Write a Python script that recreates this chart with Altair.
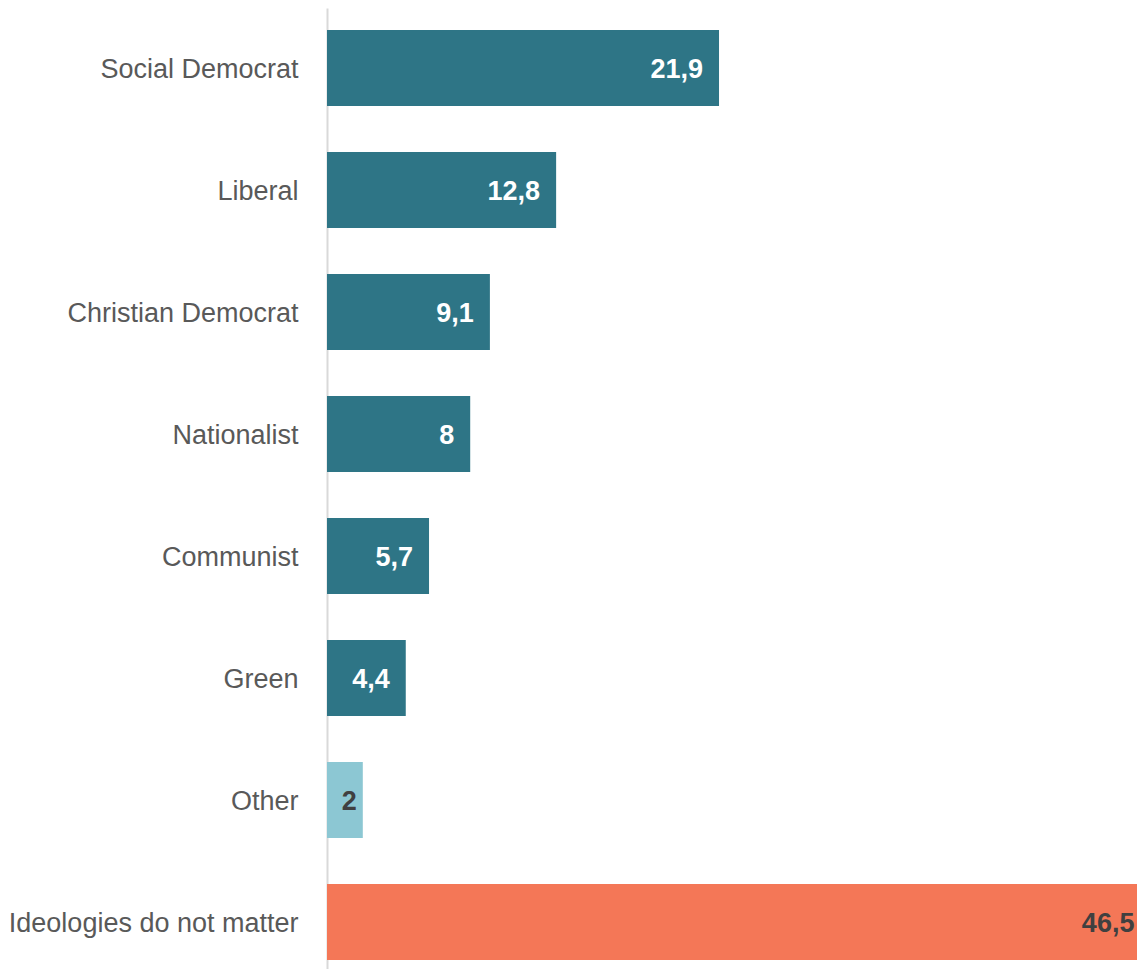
import altair as alt
import pandas as pd

categories = ["Social Democrat", "Liberal", "Christian Democrat", "Nationalist",
              "Communist", "Green", "Other", "Ideologies do not matter"]
values = [21.9, 12.8, 9.1, 8, 5.7, 4.4, 2, 46.5]
labels = ["21,9", "12,8", "9,1", "8", "5,7", "4,4", "2", "46,5"]
groups = ["main", "main", "main", "main", "main", "main", "other", "none"]

df = pd.DataFrame({"cat": categories, "val": values, "lab": labels, "grp": groups})

FONT = "Liberation Sans, Arial, sans-serif"
XMAX = 45.25

y = alt.Y("cat:N", sort=categories,
          scale=alt.Scale(paddingInner=0.377, paddingOuter=0.127, align=0.71),
          axis=alt.Axis(title=None, ticks=False, labelFont=FONT, labelFontSize=27,
                        labelColor="#595959", labelPadding=29, labelLimit=400,
                        labelOffset=2,
                        domainColor="#d9d9d9", domainWidth=2))
x_scale = alt.Scale(domain=[0, XMAX], nice=False, zero=True)

bars = alt.Chart(df).mark_bar(clip=False).encode(
    y=y, x=alt.X("val:Q", scale=x_scale, axis=None),
    color=alt.Color("grp:N", scale=alt.Scale(domain=["main", "other", "none"],
                                             range=["#2e7586", "#8cc7d3", "#f47757"]),
                    legend=None),
)

# label anchor: inside the bar end; narrow bars get their label nearer the end,
# and the clipped long bar keeps its label inside the visible area
text = alt.Chart(df).transform_calculate(
    lx="datum.val < 3 ? datum.val + 0.56 : min(datum.val, 46.0)"
).mark_text(align="right", baseline="middle", dx=-16, dy=2,
            font=FONT, fontSize=27, fontWeight="bold").encode(
    y=alt.Y("cat:N", sort=categories),
    x=alt.X("lx:Q", scale=x_scale, axis=None),
    text="lab:N",
    color=alt.Color("grp:N", scale=alt.Scale(domain=["main", "other", "none"],
                                             range=["#ffffff", "#404040", "#404040"]),
                    legend=None),
)

chart = alt.layer(bars, text).resolve_scale(color="independent").properties(
    width=810, height=961,
    autosize=alt.AutoSizeParams(type="none"),
    padding={"left": 319, "top": 0, "right": 0, "bottom": 0},
).configure_view(stroke=None)

chart.save("out.html", embed_options={"renderer": "svg", "actions": False})
